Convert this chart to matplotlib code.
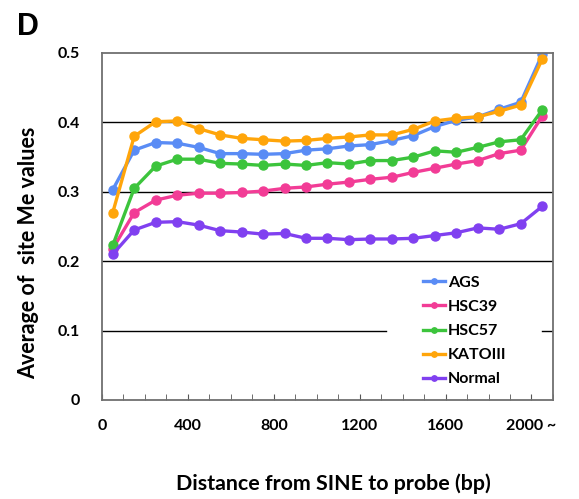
import matplotlib
matplotlib.use("Agg")
import matplotlib.pyplot as plt

plt.rcParams['font.family'] = ['Lato', 'DejaVu Sans']
plt.rcParams['font.weight'] = 'bold'

distance = [50, 150, 250, 350, 450, 550, 650, 750, 850, 950, 1050,
            1150, 1250, 1350, 1450, 1550, 1650, 1750, 1850, 1950, 2050]

ags = [0.303, 0.360, 0.371, 0.370, 0.364, 0.355, 0.355, 0.354, 0.355, 0.360, 0.362,
       0.366, 0.368, 0.374, 0.381, 0.394, 0.403, 0.408, 0.419, 0.429, 0.498]
hsc39 = [0.218, 0.270, 0.288, 0.295, 0.298, 0.298, 0.299, 0.301, 0.305, 0.307, 0.311,
         0.314, 0.318, 0.321, 0.328, 0.334, 0.340, 0.345, 0.355, 0.360, 0.409]
hsc57 = [0.223, 0.305, 0.337, 0.347, 0.347, 0.341, 0.340, 0.338, 0.340, 0.338, 0.342,
         0.340, 0.345, 0.345, 0.350, 0.359, 0.357, 0.364, 0.372, 0.375, 0.418]
katoiii = [0.270, 0.380, 0.401, 0.402, 0.391, 0.382, 0.377, 0.375, 0.373, 0.374, 0.377,
           0.379, 0.382, 0.382, 0.390, 0.402, 0.406, 0.408, 0.416, 0.425, 0.491]
normal = [0.210, 0.245, 0.256, 0.257, 0.252, 0.244, 0.242, 0.239, 0.240, 0.233, 0.233,
          0.231, 0.232, 0.232, 0.233, 0.237, 0.241, 0.248, 0.246, 0.254, 0.279]

names = ['AGS', 'HSC39', 'HSC57', 'KATOIII', 'Normal']
colors = ['#5a8cf5', '#f23c96', '#3cc43c', '#ffa50a', '#8040f0']
xticks = [0, 400, 800, 1200, 1600, 2000]
xlabels = ['0', '400', '800', '1200', '1600', '2000 ~']
yticks = [0, 0.1, 0.2, 0.3, 0.4, 0.5]
ylabels = ['0', '0.1', '0.2', '0.3', '0.4', '0.5']

fig = plt.figure(figsize=(5.79, 4.99), dpi=100)
ax = fig.add_axes([0.1762, 0.1984, 0.7788, 0.6954])

series = [ags, hsc39, hsc57, katoiii, normal]
for vals, name, c in zip(series, names, colors):
    ax.plot(distance, vals, '-o', color=c, lw=2.4, ms=6.5, label=name)

ax.set_xlim(0, 2100)
ax.set_ylim(0, 0.5)
for v in yticks[2:-1]:
    ax.axhline(v, color='black', lw=1, zorder=0)
# the 0.1 gridline is broken where the legend sits
ax.axhline(0.1, xmax=0.63, color='black', lw=1, zorder=0)
ax.axhline(0.1, xmin=0.975, color='black', lw=1, zorder=0)

ax.set_xticks(xticks)
ax.set_xticklabels(xlabels)
ax.set_xticks(range(0, 2101, 100), minor=True)
ax.set_yticks(yticks)
ax.set_yticklabels(ylabels)
ax.tick_params(axis='x', which='both', direction='in', length=4, color='#555555')
ax.tick_params(axis='x', which='major', pad=14, labelsize=11.5)
ax.tick_params(axis='y', length=0, pad=16, labelsize=11.5)
for s in ax.spines.values():
    s.set_color('#707070')
    s.set_linewidth(1.3)

ax.set_xlabel('Distance from SINE to probe (bp)', fontsize=15.4, fontweight='bold')
ax.set_ylabel('Average of  site Me values', fontsize=15.5, fontweight='bold')
ax.xaxis.set_label_coords(0.512, -0.212)
ax.yaxis.set_label_coords(-0.14, 0.425)

leg = ax.legend(loc='upper left', bbox_to_anchor=(0.712, 0.358), frameon=False,
                fontsize=11.5, handlelength=1.4, handletextpad=0.15,
                labelspacing=0.62, borderpad=0, borderaxespad=0, markerscale=0.6)

fig.text(0.029, 0.93, 'D', fontsize=22, fontweight='bold', family='Liberation Sans')

fig.savefig('out.png', dpi=100)
